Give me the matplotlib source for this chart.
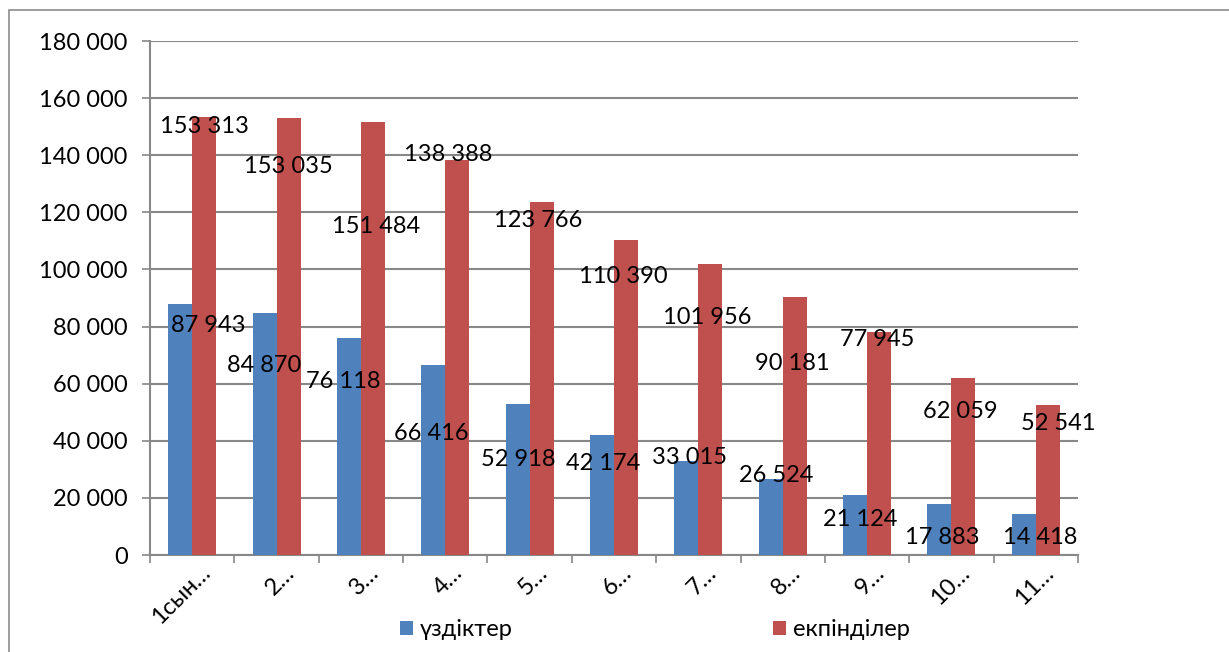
import numpy as np
import matplotlib
matplotlib.use("Agg")
import matplotlib.pyplot as plt
from matplotlib.patches import Rectangle
from matplotlib.ticker import FuncFormatter

plt.rcParams['font.family'] = ['Lato', 'Noto Sans', 'DejaVu Sans']

categories = ['1сын…', '2…', '3…', '4…', '5…', '6…', '7…', '8…', '9…', '10…', '11…']
uzdikter = [87943, 84870, 76118, 66416, 52918, 42174, 33015, 26524, 21124, 17883, 14418]
ekpindiler = [153313, 153035, 151484, 138388, 123766, 110390, 101956, 90181, 77945, 62059, 52541]
series_names = ['үздіктер', 'екпінділер']

# where Excel put the data labels (category units, value units)
blue_label_pos = [(0.19, 80200), (0.85, 66200), (1.79, 60600), (2.84, 42700), (3.86, 33300),
                  (4.87, 32200), (5.89, 34300), (6.92, 27700), (7.92, 12300), (8.89, 6300),
                  (10.05, 6300)]
red_label_pos = [(0.15, 149900), (1.14, 136200), (2.18, 115200), (3.03, 140100), (4.10, 117300),
                 (5.11, 97700), (6.11, 83000), (7.11, 66900), (8.12, 75300), (9.10, 50400),
                 (10.27, 46200)]

BLUE = '#4F81BD'
RED = '#C0504D'
GRID = '#888888'
FS = 17

fig = plt.figure(figsize=(12.29, 6.52), dpi=100)
ax = fig.add_axes([150 / 1229, 1 - 555 / 652, 928 / 1229, 514 / 652])

# outer chart frame
fig.patches.append(Rectangle((9 / 1229, -0.1), 1.2, 1 - 10 / 652 + 0.1, transform=fig.transFigure,
                             fill=False, edgecolor='#8c8c8c', linewidth=1.2))

x = np.arange(len(categories))
w = 0.285
ax.bar(x - w / 2, uzdikter, w, color=BLUE, label=series_names[0], zorder=3)
ax.bar(x + w / 2, ekpindiler, w, color=RED, label=series_names[1], zorder=3)

for (lx, ly), v in zip(blue_label_pos, uzdikter):
    ax.text(lx, ly, f'{v:,}'.replace(',', ' '), ha='center', va='center', fontsize=FS, zorder=5)
for (lx, ly), v in zip(red_label_pos, ekpindiler):
    ax.text(lx, ly, f'{v:,}'.replace(',', ' '), ha='center', va='center', fontsize=FS, zorder=5)

ax.set_xlim(-0.5, len(categories) - 0.5)
ax.set_ylim(0, 180000)
ax.set_yticks(np.arange(0, 180001, 20000))
ax.yaxis.set_major_formatter(FuncFormatter(lambda v, p: f'{int(v):,}'.replace(',', ' ')))
ax.yaxis.grid(True, color=GRID, linewidth=1.5, zorder=0)
ax.tick_params(axis='y', labelsize=FS, length=6, width=1.2, color=GRID, pad=10)

ax.set_xticks(np.arange(-0.5, len(categories), 1.0))
ax.set_xticklabels([])
ax.tick_params(axis='x', length=6, width=1.2, color=GRID)
for i, c in enumerate(categories):
    ax.annotate(c, xy=(i, 0), xycoords=('data', 'axes fraction'), xytext=(5, -5),
                textcoords='offset points', rotation=45, ha='right', va='top',
                rotation_mode='anchor', fontsize=FS)

for s in ['top', 'right']:
    ax.spines[s].set_visible(False)
ax.spines['left'].set_color(GRID)
ax.spines['left'].set_linewidth(1.5)
ax.spines['bottom'].set_color(GRID)
ax.spines['bottom'].set_linewidth(1.5)

fig.legend(loc='center', bbox_to_anchor=(655 / 1229, 1 - 630 / 652), ncol=2, frameon=False,
           fontsize=FS, handlelength=0.55, handleheight=0.55, handletextpad=0.3,
           columnspacing=11.0)

fig.savefig('out.png', dpi=100)
